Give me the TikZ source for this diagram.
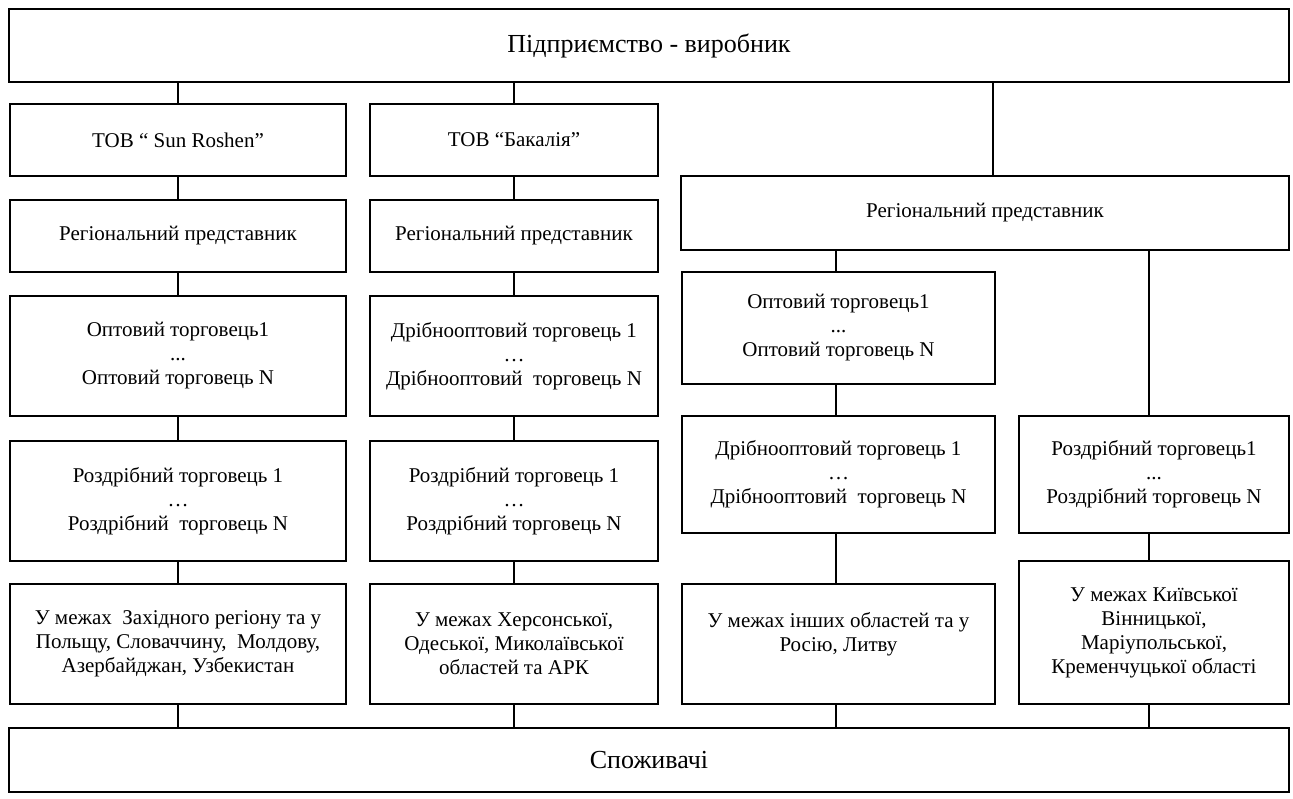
\documentclass[tikz,border=0pt]{standalone}
\usepackage{fontspec}
\setmainfont{Liberation Serif}
\usetikzlibrary{calc}

\begin{document}
\begin{tikzpicture}[x=1pt, y=-1pt]

  % ---------- Styling ----------
  \tikzset{
    box/.style={draw=black, line width=1.5pt, align=center, inner sep=0pt,
      font=\fontsize{21}{24}\selectfont},
    bigbox/.style={box, font=\fontsize{26}{30}\selectfont},
    link/.style={draw=black, line width=1.5pt}
  }

  \useasboundingbox (0,0) rectangle (1293,799);

  % ---------- Top and bottom ----------
  \node[bigbox, minimum width=1280, minimum height=73] (top) at (649,45.5) {Підприємство - виробник};
  \node[bigbox, minimum width=1280, minimum height=64] (spozh) at (649,760) {Споживачі};

  % ---------- Column 1 ----------
  \node[box, minimum width=336, minimum height=72] (tob1) at (178,140) {ТОВ “ Sun Roshen”};
  \node[box, minimum width=336, minimum height=72] (reg1) at (178,236) {Регіональний представник};
  \node[box, minimum width=336, minimum height=120] (opt1) at (178,356)
    {Оптовий торговець1\\...\\Оптовий торговець N};
  \node[box, minimum width=336, minimum height=120] (roz1) at (178,501)
    {Роздрібний торговець 1\\…\\Роздрібний\ \ торговець N};
  \node[box, minimum width=336, minimum height=120] (area1) at (178,644)
    {У межах\ \ Західного регіону та у\\Польщу, Словаччину,\ \ Молдову,\\Азербайджан, Узбекистан};

  % ---------- Column 2 ----------
  \node[box, minimum width=288, minimum height=72] (tob2) at (514,140) {ТОВ “Бакалія”};
  \node[box, minimum width=288, minimum height=72] (reg2) at (514,236) {Регіональний представник};
  \node[box, minimum width=288, minimum height=120] (opt2) at (514,356)
    {Дрібнооптовий торговець 1\\…\\Дрібнооптовий\ \ торговець N};
  \node[box, minimum width=288, minimum height=120] (roz2) at (514,501)
    {Роздрібний торговець 1\\…\\Роздрібний торговець N};
  \node[box, minimum width=288, minimum height=120] (area2) at (514,644)
    {У межах Херсонської,\\Одеської, Миколаївської\\областей та АРК};

  % ---------- Columns 3 and 4 ----------
  \node[box, minimum width=608, minimum height=74] (reg3) at (985,213) {Регіональний представник};
  \node[box, minimum width=313, minimum height=112] (opt3) at (838.5,328)
    {Оптовий торговець1\\...\\Оптовий торговець N};
  \node[box, minimum width=313, minimum height=117] (drib3) at (838.5,474.5)
    {Дрібнооптовий торговець 1\\…\\Дрібнооптовий\ \ торговець N};
  \node[box, minimum width=313, minimum height=120] (area3) at (838.5,644)
    {У межах інших областей та у\\Росію, Литву\\~};
  \node[box, minimum width=270, minimum height=117] (roz4) at (1154,474.5)
    {Роздрібний торговець1\\...\\Роздрібний торговець N};
  \node[box, minimum width=270, minimum height=143] (area4) at (1154,632.5)
    {У межах Київської\\Вінницької,\\Маріупольської,\\Кременчуцької області};

  % ---------- Connectors ----------
  \coordinate (r3) at (993,0);
  \coordinate (c3) at (836,0);
  \coordinate (r4) at (1149,0);
  \foreach \a/\b/\c in {top/tob1/tob1, tob1/reg1/tob1, reg1/opt1/tob1, opt1/roz1/tob1,
      roz1/area1/tob1, area1/spozh/tob1,
      top/tob2/tob2, tob2/reg2/tob2, reg2/opt2/tob2, opt2/roz2/tob2,
      roz2/area2/tob2, area2/spozh/tob2,
      top/reg3/r3, reg3/opt3/c3, opt3/drib3/c3, drib3/area3/c3, area3/spozh/c3,
      reg3/roz4/r4, roz4/area4/r4, area4/spozh/r4}
    \draw[link] (\a.south -| \c) -- (\b.north -| \c);

\end{tikzpicture}
\end{document}
